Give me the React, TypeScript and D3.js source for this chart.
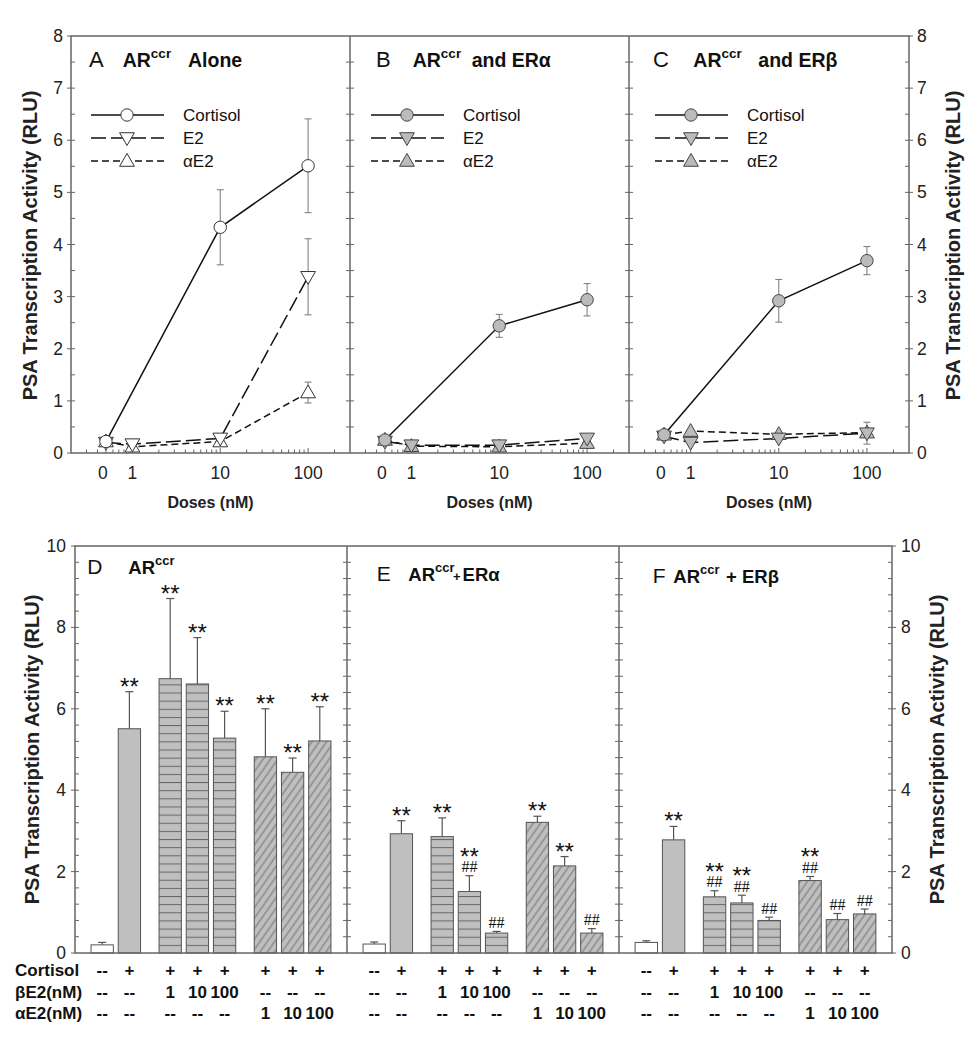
import React from "react";
import * as d3 from "d3";

const FONT = "'Liberation Sans', Arial, Helvetica, sans-serif";
const SERIF = "'Liberation Serif', 'Times New Roman', serif";

// ---------- Top panels: dose response ----------
const doseTickLabels = ["0", "1", "10", "100"];
const doseTickPositions = [0.46, 1, 10, 100];
const cortisolDoses = [0.5, 10, 100];
const estrogenDoses = [0.5, 1, 10, 100];

const panelLetters = ["A", "B", "C"];
const panelSubtitles = ["Alone", "and ER\u03b1", "and ER\u03b2"];
const legendNames = ["Cortisol", "E2", "\u03b1E2"];

const aCortisol = [0.22, 4.33, 5.51];
const aCortisolErr = [0.03, 0.72, 0.9];
const aE2 = [0.2, 0.17, 0.28, 3.38];
const aE2Err = [0.03, 0.03, 0.05, 0.73];
const aAE2 = [0.22, 0.12, 0.22, 1.16];
const aAE2Err = [0.03, 0.03, 0.05, 0.2];

const bCortisol = [0.25, 2.44, 2.94];
const bCortisolErr = [0.03, 0.22, 0.31];
const bE2 = [0.22, 0.15, 0.15, 0.28];
const bE2Err = [0.03, 0.02, 0.03, 0.07];
const bAE2 = [0.25, 0.13, 0.12, 0.19];
const bAE2Err = [0.03, 0.02, 0.02, 0.05];

const cCortisol = [0.35, 2.92, 3.69];
const cCortisolErr = [0.03, 0.41, 0.27];
const cE2 = [0.32, 0.2, 0.28, 0.38];
const cE2Err = [0.03, 0.03, 0.03, 0.21];
const cAE2 = [0.35, 0.42, 0.36, 0.39];
const cAE2Err = [0.03, 0.03, 0.03, 0.05];

const topCortisol = [aCortisol, bCortisol, cCortisol];
const topCortisolErr = [aCortisolErr, bCortisolErr, cCortisolErr];
const topE2 = [aE2, bE2, cE2];
const topE2Err = [aE2Err, bE2Err, cE2Err];
const topAE2 = [aAE2, bAE2, cAE2];
const topAE2Err = [aAE2Err, bAE2Err, cAE2Err];

// ---------- Bottom panels: bars ----------
const barLetters = ["D", "E", "F"];
const barSlots = [1, 2, 3.5, 4.5, 5.5, 7, 8, 9];
const barKinds = ["open", "solid", "horiz", "horiz", "horiz", "diag", "diag", "diag"];
const rowCortisol = ["--", "+", "+", "+", "+", "+", "+", "+"];
const rowBetaE2 = ["--", "--", "1", "10", "100", "--", "--", "--"];
const rowAlphaE2 = ["--", "--", "--", "--", "--", "1", "10", "100"];
const rowNames = ["Cortisol", "\u03b2E2(nM)", "\u03b1E2(nM)"];

const dValues = [0.2, 5.51, 6.74, 6.61, 5.28, 4.82, 4.44, 5.21];
const dErr = [0.06, 0.91, 1.97, 1.14, 0.66, 1.18, 0.35, 0.84];
const dStars = [0, 1, 1, 1, 1, 1, 1, 1];
const dHash = [0, 0, 0, 0, 0, 0, 0, 0];

const eValues = [0.22, 2.93, 2.86, 1.51, 0.49, 3.21, 2.14, 0.49];
const eErr = [0.05, 0.32, 0.46, 0.39, 0.04, 0.15, 0.23, 0.11];
const eStars = [0, 1, 1, 1, 0, 1, 1, 0];
const eHash = [0, 0, 0, 1, 1, 0, 0, 1];

const fValues = [0.26, 2.78, 1.38, 1.23, 0.8, 1.78, 0.82, 0.96];
const fErr = [0.04, 0.33, 0.15, 0.19, 0.08, 0.1, 0.15, 0.12];
const fStars = [0, 1, 1, 1, 0, 1, 0, 0];
const fHash = [0, 0, 1, 1, 1, 1, 1, 1];

const barValues = [dValues, eValues, fValues];
const barErrs = [dErr, eErr, fErr];
const barStars = [dStars, eStars, fStars];
const barHashes = [dHash, eHash, fHash];

// ---------- layout ----------
const W = 979;
const H = 1050;
const topLefts = [71, 350, 629];
const topRight = 909;
const topTop = 36;
const topBottom = 453;
const botLefts = [75, 347, 619];
const botRight = 892;
const botTop = 546;
const botBottom = 953;

const AXIS = "#666";
const BAR_FILL = "#bfbfbf";
const BAR_STROKE = "#555";
const MARK_FILL = "#bbbbbb";

const yTop = d3.scaleLinear().domain([0, 8]).range([topBottom, topTop]);
const yBot = d3.scaleLinear().domain([0, 10]).range([botBottom, botTop]);

const triUp = d3.symbol().type(d3.symbolTriangle).size(95);

function Marker({ kind, x, y, filled }: { kind: number; x: number; y: number; filled: boolean }) {
  const fill = filled ? MARK_FILL : "#fff";
  const stroke = filled ? "#444" : "#333";
  if (kind === 0) return <circle cx={x} cy={y} r={6.2} fill={fill} stroke={stroke} strokeWidth={1} />;
  const rot = kind === 1 ? 180 : 0;
  return (
    <path
      d={triUp() as string}
      transform={`translate(${x},${y + (kind === 1 ? -1 : 1)}) rotate(${rot})`}
      fill={fill}
      stroke={stroke}
      strokeWidth={1}
    />
  );
}

const dashes = [undefined, "15,5", "7,4"];

function TopPanel({ i }: { i: number }) {
  const left = topLefts[i];
  const right = i < 2 ? topLefts[i + 1] : topRight;
  const x = d3.scaleLog().domain([0.2, 300]).range([left, right]);
  const filled = i > 0;
  const series = [
    { doses: cortisolDoses, vals: topCortisol[i], errs: topCortisolErr[i] },
    { doses: estrogenDoses, vals: topE2[i], errs: topE2Err[i] },
    { doses: estrogenDoses, vals: topAE2[i], errs: topAE2Err[i] },
  ];
  const minor: number[] = [];
  [0.1, 1, 10, 100].forEach((k) => {
    for (let m = 1; m <= 9; m++) {
      const v = +(k * m).toPrecision(3);
      if (v > 0.2 && v < 300) minor.push(v);
    }
  });
  const yTicks = d3.range(0.5, 8, 0.5);
  const line = d3
    .line<[number, number]>()
    .x((d) => x(d[0]))
    .y((d) => yTop(d[1]));
  const legY = [115, 138, 161];
  const legOff = [20, 21, 26][i];
  return (
    <g>
      {minor.map((v) => {
        const major = v === 1 || v === 10 || v === 100;
        return (
          <line key={"xt" + v} x1={x(v)} x2={x(v)} y1={topBottom} y2={topBottom - (major ? 5 : 3.5)} stroke={AXIS} strokeWidth={1} />
        );
      })}
      {yTicks.map((v) => (
        <g key={"yt" + v}>
          <line x1={left} x2={left + 4} y1={yTop(v)} y2={yTop(v)} stroke={AXIS} strokeWidth={1} />
          <line x1={right - 4} x2={right} y1={yTop(v)} y2={yTop(v)} stroke={AXIS} strokeWidth={1} />
        </g>
      ))}
      {doseTickPositions.map((v, k) => (
        <text key={"xl" + k} x={x(v)} y={479} textAnchor="middle" fontSize={17.5} fontFamily={FONT} fill="#222">
          {doseTickLabels[k]}
        </text>
      ))}
      <text x={(left + right) / 2} y={508} textAnchor="middle" fontSize={16} fontWeight="bold" fontFamily={FONT} fill="#222">
        Doses (nM)
      </text>
      <text x={left + [18, 26, 24][i]} y={67} fontSize={22} fontFamily={FONT} fill="#111">
        {panelLetters[i]}
      </text>
      <text x={left + [51.7, 62.7, 64.3][i]} y={67} fontSize={19.5} fontWeight="bold" fontFamily={FONT} fill="#111">
        AR
        <tspan fontSize={13.5} dy={-9.5}>
          ccr
        </tspan>
      </text>
      <text x={left + [117, 121.7, 129.3][i]} y={67} fontSize={19.5} fontWeight="bold" fontFamily={FONT} fill="#111">
        {panelSubtitles[i]}
      </text>
      {legendNames.map((nm, k) => (
        <g key={"lg" + k}>
          <line x1={left + legOff} x2={left + legOff + 73} y1={legY[k]} y2={legY[k]} stroke="#111" strokeWidth={1.5} strokeDasharray={dashes[k]} />
          <Marker kind={k} x={left + legOff + 36} y={legY[k]} filled={filled} />
          <text x={left + legOff + 92} y={legY[k] + 6} fontSize={17} fontFamily={FONT} fill="#111">
            {nm}
          </text>
        </g>
      ))}
      {series.map((s, k) => (
        <g key={"er" + k}>
          {s.doses.map((d, j) => {
            const e = s.errs[j];
            const cx = x(d);
            const y1 = yTop(s.vals[j] + e);
            const y2 = yTop(s.vals[j] - e);
            return (
              <g key={j} stroke="#777" strokeWidth={1}>
                <line x1={cx} x2={cx} y1={y1} y2={y2} />
                <line x1={cx - 3.5} x2={cx + 3.5} y1={y1} y2={y1} />
                <line x1={cx - 3.5} x2={cx + 3.5} y1={y2} y2={y2} />
              </g>
            );
          })}
        </g>
      ))}
      {series.map((s, k) => (
        <path
          key={"ln" + k}
          d={line(s.doses.map((d, j) => [d, s.vals[j]] as [number, number])) as string}
          fill="none"
          stroke="#111"
          strokeWidth={1.5}
          strokeDasharray={dashes[k]}
        />
      ))}
      {[2, 1, 0].map((k) => (
        <g key={"mk" + k}>
          {series[k].doses.map((d, j) => (
            <Marker key={j} kind={k} x={x(d)} y={yTop(series[k].vals[j])} filled={filled} />
          ))}
        </g>
      ))}
    </g>
  );
}

function BottomPanel({ i }: { i: number }) {
  const left = botLefts[i];
  const right = i < 2 ? botLefts[i + 1] : botRight;
  const x = d3.scaleLinear().domain([0, 10]).range([left, right]);
  const bw = x(0.82) - x(0);
  const vals = barValues[i];
  const errs = barErrs[i];
  const yTicks = d3.range(0.4, 10, 0.4);
  const fillFor = (k: string) => (k === "open" ? "#fff" : k === "solid" ? BAR_FILL : k === "horiz" ? "url(#hz)" : "url(#dg)");
  return (
    <g>
      {yTicks.map((v) => (
        <g key={"yt" + v}>
          <line x1={left} x2={left + 4} y1={yBot(v)} y2={yBot(v)} stroke={AXIS} strokeWidth={1} />
          <line x1={right - 4} x2={right} y1={yBot(v)} y2={yBot(v)} stroke={AXIS} strokeWidth={1} />
        </g>
      ))}
      {vals.map((v, j) => {
        const cx = x(barSlots[j]);
        const top = yBot(v);
        const et = yBot(v + errs[j]);
        return (
          <g key={"b" + j}>
            <line x1={cx} x2={cx} y1={top} y2={et} stroke={BAR_STROKE} strokeWidth={1.2} />
            <line x1={cx - 4} x2={cx + 4} y1={et} y2={et} stroke={BAR_STROKE} strokeWidth={1.2} />
            <rect x={cx - bw / 2} y={top} width={bw} height={botBottom - top} fill={fillFor(barKinds[j])} stroke={BAR_STROKE} strokeWidth={1} />
          </g>
        );
      })}
      {vals.map((v, j) => {
        const cx = x(barSlots[j]);
        const et = yBot(v + errs[j]);
        const hasHash = barHashes[i][j] === 1;
        const hashC = et - 9;
        const starC = hasHash ? hashC - 16 : et - 11;
        return (
          <g key={"s" + j}>
            {hasHash && (
              <text x={cx} y={hashC + 5.5} textAnchor="middle" fontSize={16} fontFamily={SERIF} fill="#111">
                ##
              </text>
            )}
            {barStars[i][j] === 1 && (
              <text x={cx} y={starC + 14} textAnchor="middle" fontSize={24} fontFamily={FONT} fill="#111">
                **
              </text>
            )}
          </g>
        );
      })}
      {[rowCortisol, rowBetaE2, rowAlphaE2].map((row, r) => (
        <g key={"row" + r}>
          {row.map((t, j) => (
            <text key={j} x={x(barSlots[j])} y={[976, 998, 1019][r]} textAnchor="middle" fontSize={17} fontWeight="bold" fontFamily={FONT} fill="#111">
              {t}
            </text>
          ))}
        </g>
      ))}
      <text x={left + [12.3, 29.7, 33.7][i]} y={[574, 581, 583][i]} fontSize={21} fontFamily={FONT} fill="#111">
        {barLetters[i]}
      </text>
      <text x={left + [53.3, 61.3, 54.3][i]} y={[574, 581, 583][i]} fontSize={18.5} fontWeight="bold" fontFamily={FONT} fill="#111">
        AR
        <tspan fontSize={13} dy={-9}>
          ccr
        </tspan>
      </text>
      {i === 1 && (
        <text x={453} y={581} fontSize={18.5} fontWeight="bold" fontFamily={FONT} fill="#111">
          <tspan fontSize={13}>+</tspan>
          <tspan dx={2}>{"ER\u03b1"}</tspan>
        </text>
      )}
      {i === 2 && (
        <text x={726} y={583} fontSize={18.5} fontWeight="bold" fontFamily={FONT} fill="#111">
          {"+ ER\u03b2"}
        </text>
      )}
    </g>
  );
}

export default function App() {
  const topLabelTicks = d3.range(0, 9, 1);
  const botLabelTicks = d3.range(0, 12, 2);
  const yTitle = "PSA Transcription Activity (RLU)";
  return (
    <svg width={W} height={H} style={{ position: "absolute", left: 0, top: 0, background: "#fff" }} fontFamily={FONT}>
      <defs>
        <pattern id="hz" patternUnits="userSpaceOnUse" width={20} height={8.14} y={botBottom}>
          <rect width={20} height={8.14} fill={BAR_FILL} />
          <line x1={0} x2={20} y1={0.5} y2={0.5} stroke="#666" strokeWidth={1} />
        </pattern>
        <pattern id="dg" patternUnits="userSpaceOnUse" width={6} height={20} patternTransform="rotate(35)">
          <rect width={6} height={20} fill={BAR_FILL} />
          <line x1={3} x2={3} y1={0} y2={20} stroke="#666" strokeWidth={0.9} />
        </pattern>
      </defs>
      <rect width={W} height={H} fill="#fff" />

      {[0, 1, 2].map((i) => (
        <TopPanel key={i} i={i} />
      ))}
      <g stroke={AXIS} strokeWidth={1.5} fill="none">
        <rect x={topLefts[0]} y={topTop} width={topRight - topLefts[0]} height={topBottom - topTop} />
        <line x1={topLefts[1]} x2={topLefts[1]} y1={topTop} y2={topBottom} />
        <line x1={topLefts[2]} x2={topLefts[2]} y1={topTop} y2={topBottom} />
      </g>
      {topLabelTicks.map((v) => (
        <g key={"tl" + v}>
          <line x1={topLefts[0] - 4} x2={topLefts[0]} y1={yTop(v)} y2={yTop(v)} stroke={AXIS} />
          <line x1={topRight} x2={topRight + 4} y1={yTop(v)} y2={yTop(v)} stroke={AXIS} />
          <text x={63} y={yTop(v) + 6} textAnchor="end" fontSize={17.5} fill="#222">
            {v}
          </text>
          <text x={917} y={yTop(v) + 6} textAnchor="start" fontSize={17.5} fill="#222">
            {v}
          </text>
        </g>
      ))}
      <text transform={`translate(37,${(topTop + topBottom) / 2 + 1}) rotate(-90)`} textAnchor="middle" fontSize={20} fontWeight="bold" fill="#222">
        {yTitle}
      </text>
      <text transform={`translate(960,${(topTop + topBottom) / 2 + 1}) rotate(-90)`} textAnchor="middle" fontSize={20} fontWeight="bold" fill="#222">
        {yTitle}
      </text>

      {[0, 1, 2].map((i) => (
        <BottomPanel key={i} i={i} />
      ))}
      <g stroke={AXIS} strokeWidth={1.5} fill="none">
        <rect x={botLefts[0]} y={botTop} width={botRight - botLefts[0]} height={botBottom - botTop} />
        <line x1={botLefts[1]} x2={botLefts[1]} y1={botTop} y2={botBottom} />
        <line x1={botLefts[2]} x2={botLefts[2]} y1={botTop} y2={botBottom} />
      </g>
      {botLabelTicks.map((v) => (
        <g key={"bl" + v}>
          <line x1={botLefts[0] - 4} x2={botLefts[0]} y1={yBot(v)} y2={yBot(v)} stroke={AXIS} />
          <line x1={botRight} x2={botRight + 4} y1={yBot(v)} y2={yBot(v)} stroke={AXIS} />
          <text x={66} y={yBot(v) + 6} textAnchor="end" fontSize={17.5} fill="#222">
            {v}
          </text>
          <text x={901} y={yBot(v) + 6} textAnchor="start" fontSize={17.5} fill="#222">
            {v}
          </text>
        </g>
      ))}
      <text transform={`translate(39,${(botTop + botBottom) / 2}) rotate(-90)`} textAnchor="middle" fontSize={20} fontWeight="bold" fill="#222">
        {yTitle}
      </text>
      <text transform={`translate(944,${(botTop + botBottom) / 2}) rotate(-90)`} textAnchor="middle" fontSize={20} fontWeight="bold" fill="#222">
        {yTitle}
      </text>
      {rowNames.map((nm, r) => (
        <text key={nm} x={15} y={[976, 998, 1019][r]} fontSize={17} fontWeight="bold" fill="#111">
          {nm}
        </text>
      ))}
    </svg>
  );
}
